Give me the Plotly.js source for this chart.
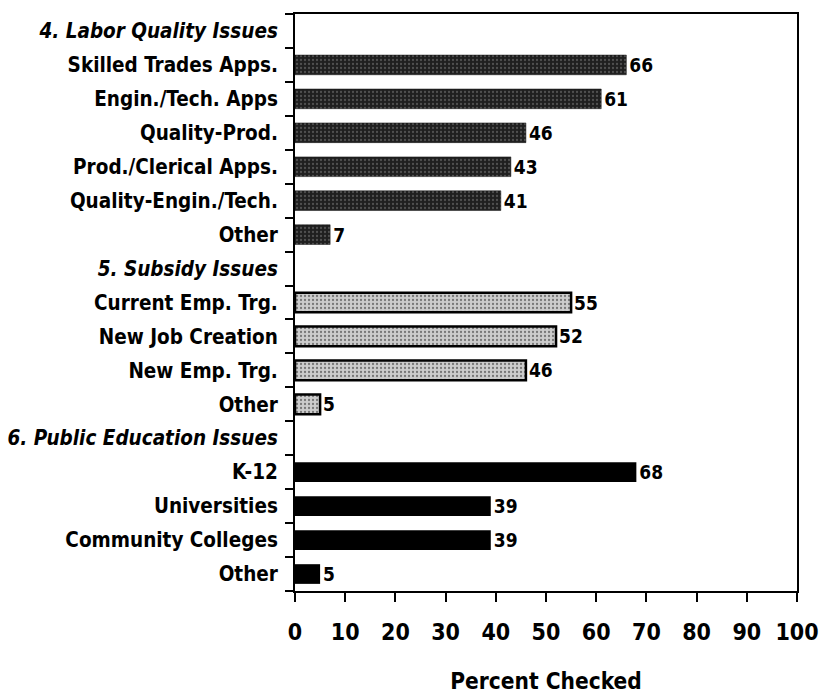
<!DOCTYPE html>
<html>
<head>
<meta charset="utf-8">
<script src="https://cdn.plot.ly/plotly-3.0.1.min.js"></script>
<style>
  html, body { margin: 0; padding: 0; background: #fff; }
  #chart { width: 821px; height: 695px; }
</style>
</head>
<body>
<div id="chart"></div>
<script>
// Survey responses: share of respondents checking each issue
const laborHeader = "4. Labor Quality Issues";
const laborLabels = ["Skilled Trades Apps.", "Engin./Tech. Apps", "Quality-Prod.",
                     "Prod./Clerical Apps.", "Quality-Engin./Tech.", "Other"];
const laborValues = [66, 61, 46, 43, 41, 7];

const subsidyHeader = "5. Subsidy Issues";
const subsidyLabels = ["Current Emp. Trg.", "New Job Creation", "New Emp. Trg.", "Other"];
const subsidyValues = [55, 52, 46, 5];

const educationHeader = "6. Public Education Issues";
const educationLabels = ["K-12", "Universities", "Community Colleges", "Other"];
const educationValues = [68, 39, 39, 5];

const xTicks = [0, 10, 20, 30, 40, 50, 60, 70, 80, 90, 100];

const FONT = '"Liberation Sans Narrow", "Arial Narrow", "DejaVu Sans Condensed", "DejaVu Sans", sans-serif';

// Lay the groups out row by row: header row, then one row per item
const groups = [
  { header: laborHeader, labels: laborLabels, values: laborValues,
    fill: '#1f1f1f', dots: '#505050', line: '#111', lw: 0.5 },
  { header: subsidyHeader, labels: subsidyLabels, values: subsidyValues,
    fill: '#cccccc', dots: '#777777', line: '#000', lw: 2.5 },
  { header: educationHeader, labels: educationLabels, values: educationValues,
    fill: '#000', dots: null, line: '#000', lw: 0 }
];

const tickvals = [], ticktext = [], traces = [];
let row = 0;
groups.forEach(g => {
  tickvals.push(row);
  ticktext.push('<i>' + g.header + '</i>');
  row++;
  const ys = [];
  g.labels.forEach(lab => {
    tickvals.push(row);
    ticktext.push(lab);
    ys.push(row);
    row++;
  });
  const marker = { color: g.fill, line: { color: g.line, width: g.lw } };
  if (g.dots) {
    marker.pattern = { shape: '.', bgcolor: g.fill, fgcolor: g.dots, size: 4, solidity: 0.25, fillmode: 'replace' };
  }
  traces.push({
    type: 'bar', orientation: 'h',
    x: g.values, y: ys,
    marker: marker,
    width: 0.58,
    text: g.values.map(String),
    textposition: 'outside',
    constraintext: 'none',
    cliponaxis: false,
    textfont: { family: FONT, size: 19, color: '#000', weight: 'bold' },
    hoverinfo: 'skip'
  });
});
const nRows = row;
const boundaries = [];
for (let i = 0; i <= nRows; i++) boundaries.push(i - 0.5);

const layout = {
  width: 821, height: 695,
  margin: { l: 295, r: 24, t: 14, b: 104 },
  paper_bgcolor: '#fff', plot_bgcolor: '#fff',
  showlegend: false,
  font: { family: FONT, color: '#000', weight: 'bold' },
  xaxis: {
    range: [0, 100],
    tickmode: 'array', tickvals: xTicks,
    ticks: 'outside', ticklen: 9, tickwidth: 2, tickcolor: '#000',
    showline: true, linewidth: 2, linecolor: '#000', mirror: true,
    showgrid: false, zeroline: false,
    tickfont: { family: FONT, size: 23, color: '#000', weight: 'bold' },
    ticklabelstandoff: 10,
    ticklabeloverflow: 'allow',
    title: { text: 'Percent Checked', font: { family: FONT, size: 22.5, color: '#000', weight: 'bold' }, standoff: 30 }
  },
  yaxis: {
    range: [nRows - 0.5, -0.5],
    tickmode: 'array', tickvals: tickvals, ticktext: ticktext,
    ticks: '',
    showline: true, linewidth: 2, linecolor: '#000', mirror: true,
    showgrid: false, zeroline: false,
    tickfont: { family: FONT, size: 20.5, color: '#000', weight: 'bold' },
    ticklabelstandoff: 11,
    minor: { tickmode: 'array', tickvals: boundaries, ticks: 'outside', ticklen: 8, tickwidth: 2, tickcolor: '#000', showgrid: false }
  },
  bargap: 0.42
};

Plotly.newPlot('chart', traces, layout, { displayModeBar: false, staticPlot: true });
</script>
</body>
</html>
